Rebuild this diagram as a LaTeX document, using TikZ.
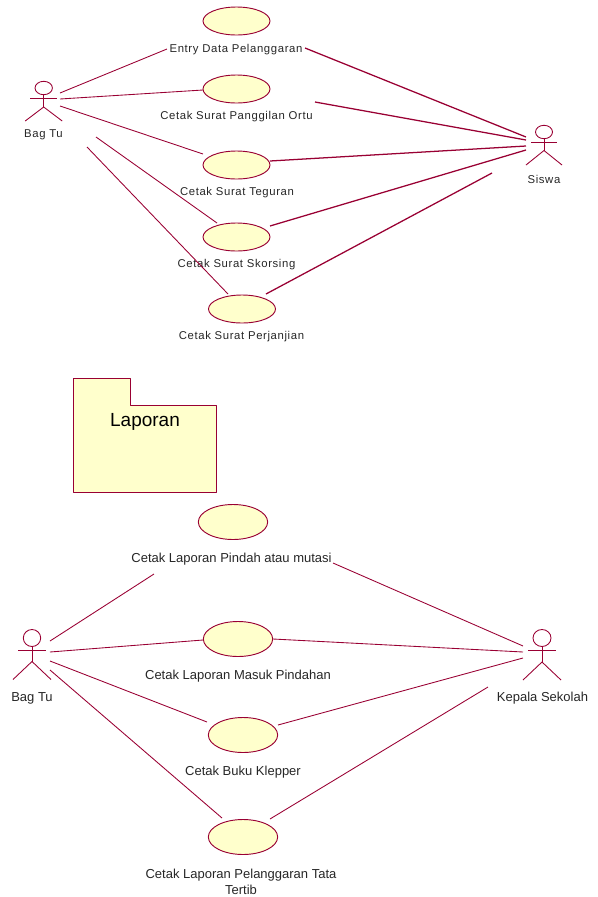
\documentclass[tikz,border=0pt]{standalone}
\usepackage{fontspec}
\setmainfont{Liberation Sans}
\newfontfamily\spacedfont[LetterSpace=5.5]{Liberation Sans}
\definecolor{rosered}{HTML}{990033}
\definecolor{roseyellow}{HTML}{FFFFCC}
\tikzset{
	usecase/.style={draw=rosered, fill=roseyellow, ellipse, inner sep=0pt, line width=0.7pt},
	smalltext/.style={font=\spacedfont\fontsize{8.5}{10}\selectfont, text=black!85, inner sep=0pt},
	bigtext/.style={font=\fontsize{9.75}{12}\selectfont, text=black!85, inner sep=0pt, align=center},
	assoc/.style={draw=rosered, line width=0.65pt},
	assocb/.style={draw=rosered, line width=0.95pt},
	actorline/.style={draw=rosered, line width=0.65pt}
}
\usetikzlibrary{shapes.geometric}

\begin{document}
\begin{tikzpicture}[x=0.75pt, y=-0.75pt, line join=bevel]
	\useasboundingbox (0,0) rectangle (597,897);
	
	% Use cases, top diagram
	\foreach \uname/\ux/\uy in {ua/236.5/21, ub/236.5/89, uc/236.5/165, ud/236.5/237, ue/242/309}
	\node[usecase, minimum width=50.25pt, minimum height=21pt] (\uname) at (\ux,\uy) {};
	
	\node[smalltext] (ualabel) at (236,50) {Entry Data Pelanggaran};
	\node[smalltext] (ublabel) at (236.5,117) {Cetak Surat Panggilan Ortu};
	\node[smalltext] (uclabel) at (237,193) {Cetak Surat Teguran};
	\node[smalltext] (udlabel) at (236.5,265) {Cetak Surat Skorsing};
	\node[smalltext] (uelabel) at (241.5,337) {Cetak Surat Perjanjian};
	
	% Use cases, bottom diagram
	\foreach \uname/\ux/\uy in {la/233/522, lb/238/639, lc/243/735, ld/243/837}
	\node[usecase, minimum width=52pt, minimum height=26.25pt] (\uname) at (\ux,\uy) {};
	
	\node[bigtext] (lalabel) at (231.5,559) {Cetak Laporan Pindah atau mutasi};
	\node[bigtext] (lblabel) at (238,676) {Cetak Laporan Masuk Pindahan};
	\node[bigtext] (lclabel) at (243,772) {Cetak Buku Klepper};
	\node[bigtext] (ldlabel) at (241,882) {Cetak Laporan Pelanggaran Tata\\Tertib};
	
	% Package
	\draw[draw=rosered, fill=roseyellow, line width=0.7pt] (73,378) -- (130.7,378) -- (130.7,405) -- (216.5,405) -- (216.5,492) -- (73,492) -- cycle;
	\node[font=\fontsize{14.25}{16}\selectfont, inner sep=0pt] (pkglabel) at (145,422) {Laporan};
	
	% Actors
	\foreach \aname/\ax/\ay/\hr/\hh/\aw/\lw/\am/\hp/\at in {
		bag/43.7/88/8.7/6.7/13.5/18.5/10/19/33,
		sis/544/132/8.5/6.7/13/18/10/18.5/33,
		bagl/32/638/8.7/8.5/14/19/12/23.5/41.5,
		kep/542/638/9/8.5/14/19/12/24/42}
	{
		\coordinate (\aname neck) at (\ax,\ay+\hh);
		\coordinate (\aname hip) at (\ax,\ay+\hp);
		\draw[actorline] (\ax,\ay) ellipse ({\hr} and {\hh});
		\draw[actorline] (\aname neck) -- (\aname hip);
		\draw[actorline] (\ax-\aw,\ay+\am) -- (\ax+\aw,\ay+\am);
		\draw[actorline] (\ax-\lw,\ay+\at) -- (\aname hip) -- (\ax+\lw,\ay+\at);
	}
	\node[smalltext] (baglabel) at (43.5,135) {Bag Tu};
	\node[smalltext] (sislabel) at (544,179) {Siswa};
	\node[bigtext] (bagllabel) at (32,698) {Bag Tu};
	\node[bigtext] (keplabel) at (542.5,698) {Kepala Sekolah};
	
	% Line ends, top diagram
	\coordinate (ta0) at (60,93);
	\coordinate (ta1) at (167,49);
	\coordinate (tb0) at (60,99);
	\coordinate (tb1) at (203,90);
	\coordinate (tc0) at (60,106);
	\coordinate (tc1) at (203,154);
	\coordinate (td0) at (96,137);
	\coordinate (td1) at (217,223);
	\coordinate (te0) at (87,147);
	\coordinate (te1) at (228,294);
	\coordinate (ra0) at (305,48);
	\coordinate (ra1) at (526,137);
	\coordinate (rb0) at (315,102);
	\coordinate (rb1) at (526,140);
	\coordinate (rc0) at (270,161);
	\coordinate (rc1) at (526,146);
	\coordinate (rd0) at (270,226);
	\coordinate (rd1) at (526,150);
	\coordinate (re0) at (266,294);
	\coordinate (re1) at (492,173);
	
	\foreach \from/\to in {ta0/ta1, tb0/tb1, tc0/tc1, td0/td1, te0/te1}
	\draw[assoc] (\from) -- (\to);
	\foreach \from/\to in {ra0/ra1, rb0/rb1, rc0/rc1, rd0/rd1, re0/re1}
	\draw[assocb] (\from) -- (\to);
	
	% Line ends, bottom diagram
	\coordinate (ba0) at (50,641);
	\coordinate (ba1) at (154,574);
	\coordinate (bb0) at (50,652);
	\coordinate (bb1) at (203,640);
	\coordinate (bc0) at (50,661);
	\coordinate (bc1) at (207,722);
	\coordinate (bd0) at (50,670);
	\coordinate (bd1) at (222,818);
	\coordinate (ka0) at (333,563);
	\coordinate (ka1) at (523,646);
	\coordinate (kb0) at (273,639);
	\coordinate (kb1) at (523,652);
	\coordinate (kc0) at (278,725);
	\coordinate (kc1) at (523,658);
	\coordinate (kd0) at (270,819);
	\coordinate (kd1) at (488,687);
	
	\foreach \from/\to in {ba0/ba1, bb0/bb1, bc0/bc1, bd0/bd1, ka0/ka1, kb0/kb1, kc0/kc1, kd0/kd1}
	\draw[assoc] (\from) -- (\to);
\end{tikzpicture}
\end{document}
